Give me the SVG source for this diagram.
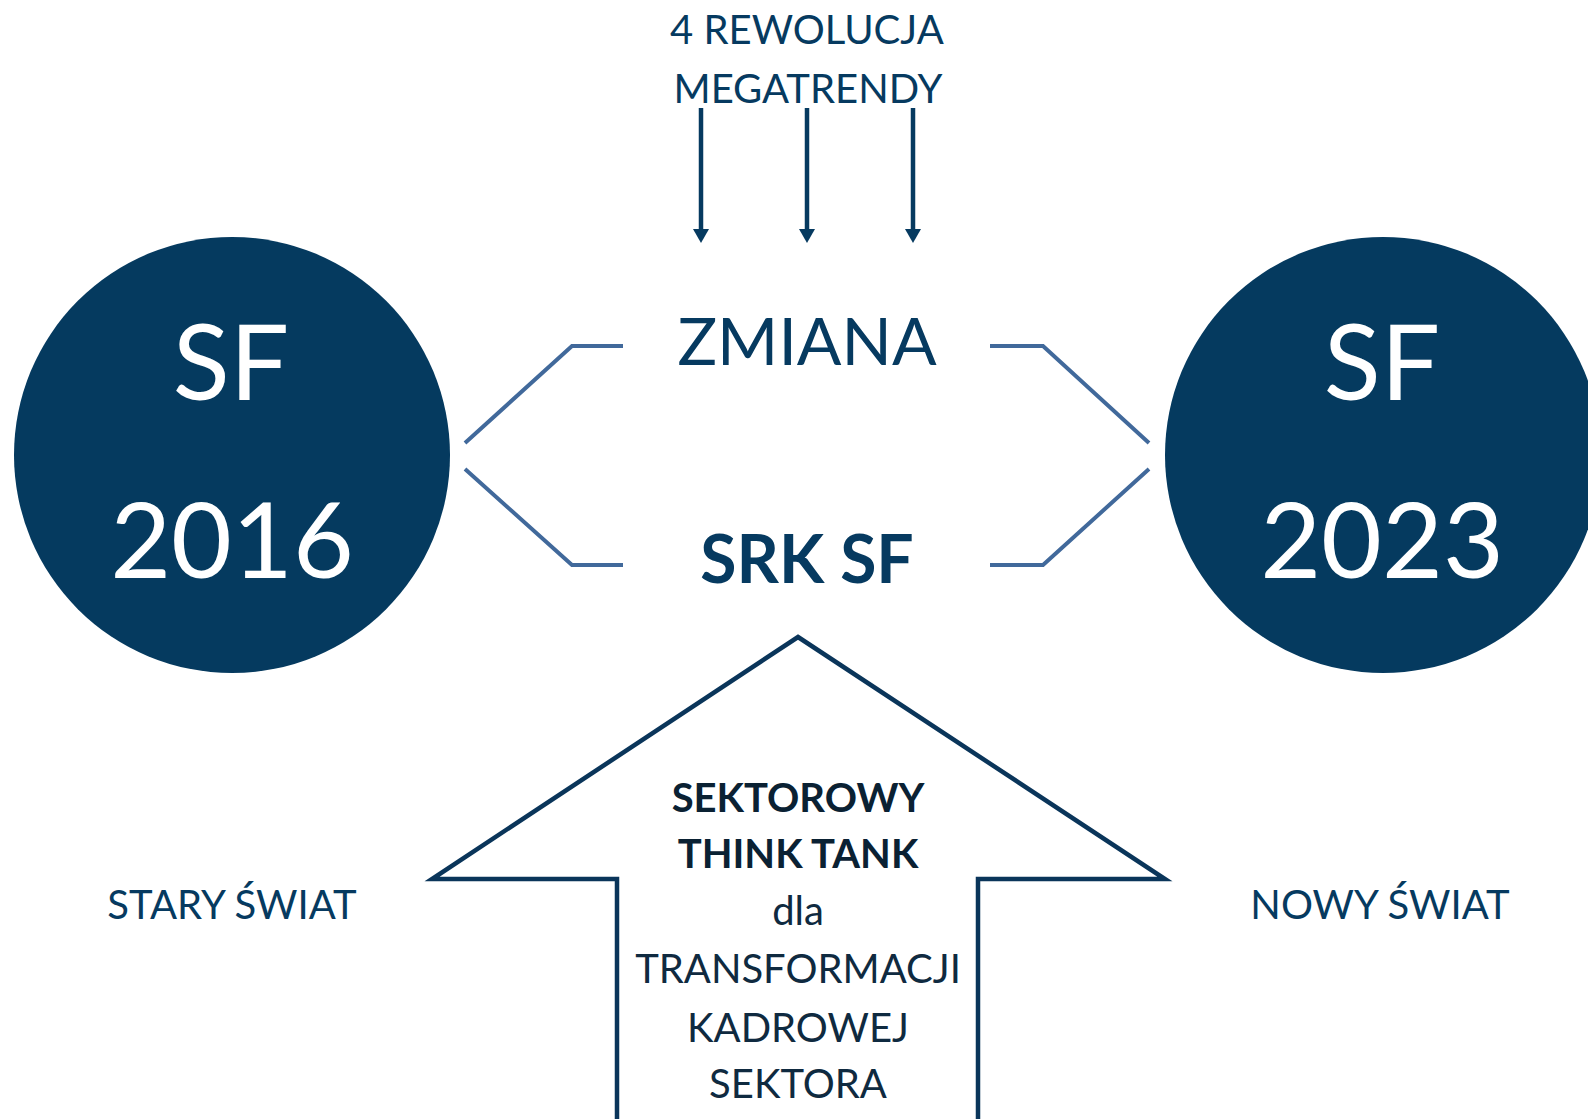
<svg xmlns="http://www.w3.org/2000/svg" width="1588" height="1119" viewBox="0 0 1588 1119">
  <style>
    text { font-family: Lato, "Open Sans", "Liberation Sans", sans-serif; text-anchor: middle; }
    .top { font-size: 40px; fill: #063A60; }
    .big { font-size: 66px; fill: #063A60; }
    .bold { font-weight: bold; }
    .circ { fill: #053A5F; }
    .ctext { font-size: 105px; fill: #FFFFFF; }
    .side { font-size: 40px; fill: #063A60; }
    .inner { font-size: 40px; fill: #0F2A40; }
    .innerb { font-size: 40px; fill: #0A2133; font-weight: bold; }
    .bracket { fill: none; stroke: #41699B; stroke-width: 4; }
    .down { stroke: #063A60; stroke-width: 4.5; fill: none; }
  </style>
  <defs>
    <marker id="ah" viewBox="0 0 14 16" refX="0" refY="8" markerWidth="14" markerHeight="16" markerUnits="userSpaceOnUse" orient="auto">
      <path d="M0,0 L14,8 L0,16 Z" fill="#063A60"/>
    </marker>
  </defs>
  <rect width="1588" height="1119" fill="#FFFFFF"/>

  <g id="megatrendy">
    <text class="top" x="807" y="44">4 REWOLUCJA</text>
    <text class="top" x="808" y="103">MEGATRENDY</text>
  </g>

  <g id="sf2016">
    <circle class="circ" cx="232" cy="455" r="218"/>
    <text class="ctext" x="231" y="400">SF</text>
    <text class="ctext" x="232" y="578">2016</text>
    <text class="side" x="232" y="919">STARY ŚWIAT</text>
  </g>

  <g id="sf2023">
    <circle class="circ" cx="1383" cy="455" r="218"/>
    <text class="ctext" x="1382" y="400">SF</text>
    <text class="ctext" x="1382" y="578">2023</text>
    <text class="side" x="1380" y="919">NOWY ŚWIAT</text>
  </g>

  <g id="zmiana">
    <text class="big" x="807" y="365">ZMIANA</text>
  </g>

  <g id="srksf">
    <text class="big bold" x="807" y="583">SRK SF</text>
  </g>

  <g id="thinktank">
    <path d="M798,637 L1165,879 L978,879 L978,1125 L617,1125 L617,879 L432,879 Z" fill="none" stroke="#0A355A" stroke-width="4.5" stroke-linejoin="miter"/>
    <text class="innerb" x="798" y="812">SEKTOROWY</text>
    <text class="innerb" x="798" y="868">THINK TANK</text>
    <text class="inner" x="798" y="925">dla</text>
    <text class="inner" x="798" y="983">TRANSFORMACJI</text>
    <text class="inner" x="798" y="1042">KADROWEJ</text>
    <text class="inner" x="798" y="1098">SEKTORA</text>
  </g>

  <g id="connectors">
    <line class="down" x1="701" y1="108" x2="701" y2="229" marker-end="url(#ah)"/>
    <line class="down" x1="807" y1="108" x2="807" y2="229" marker-end="url(#ah)"/>
    <line class="down" x1="913" y1="108" x2="913" y2="229" marker-end="url(#ah)"/>
    <polyline class="bracket" points="623,346 572,346 465,443"/>
    <polyline class="bracket" points="465,469 572,565 623,565"/>
    <polyline class="bracket" points="990,346 1043,346 1149,443"/>
    <polyline class="bracket" points="1149,469 1043,565 990,565"/>
  </g>
</svg>
